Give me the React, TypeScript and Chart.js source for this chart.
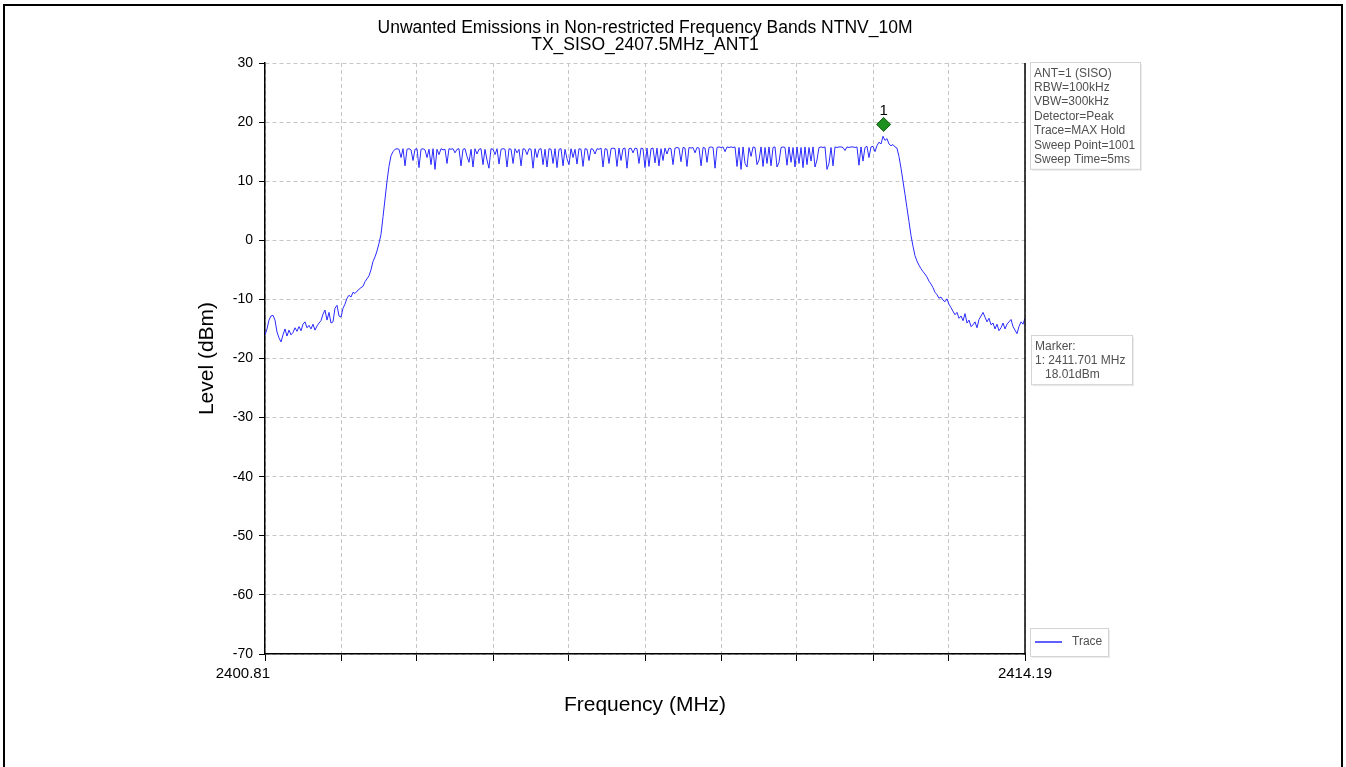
import React, { useEffect, useRef } from 'react';
import { Chart, registerables } from 'chart.js';

Chart.register(...registerables);

const TITLE_LINES = ['Unwanted Emissions in Non-restricted Frequency Bands NTNV_10M', 'TX_SISO_2407.5MHz_ANT1'];
const X_TITLE = 'Frequency (MHz)';
const Y_TITLE = 'Level (dBm)';
const X_MIN = 2400.81;
const X_MAX = 2414.19;
const X_DIVISIONS = 10;
const X_TICK_LABELS = ['2400.81', '2414.19'];
const Y_MIN = -70;
const Y_MAX = 30;
const Y_STEP = 10;

const SETTINGS_LINES = ['ANT=1 (SISO)', 'RBW=100kHz', 'VBW=300kHz', 'Detector=Peak', 'Trace=MAX Hold', 'Sweep Point=1001', 'Sweep Time=5ms'];
const MARKER_LINES = ['Marker:', '1: 2411.701 MHz', '   18.01dBm'];
const LEGEND_LABEL = 'Trace';

const MARKER_FREQ = 2411.701;
const MARKER_DRAWN_LEVEL = 19.6;
const MARKER_LABEL = '1';

// [frequency MHz, level dBm]
const LEFT_SKIRT: [number, number][] = [
  [2400.810,-16.0],[2400.845,-15.0],[2400.880,-13.5],[2400.916,-12.8],[2400.951,-12.7],[2400.986,-13.5],[2401.021,-15.5],[2401.056,-16.5],[2401.092,-17.2],[2401.127,-16.0],
  [2401.162,-15.0],[2401.197,-16.2],[2401.233,-15.2],[2401.268,-16.0],[2401.303,-15.6],[2401.338,-14.8],[2401.373,-15.4],[2401.409,-14.6],[2401.444,-15.3],[2401.479,-14.2],
  [2401.514,-13.8],[2401.550,-14.8],[2401.585,-14.4],[2401.620,-15.0],[2401.655,-14.2],[2401.690,-15.2],[2401.726,-14.5],[2401.761,-14.0],[2401.796,-13.6],[2401.831,-12.5],
  [2401.866,-11.8],[2401.902,-13.5],[2401.937,-12.2],[2401.972,-14.0],[2402.007,-13.8],[2402.042,-11.5],[2402.078,-11.0],[2402.113,-12.8],[2402.148,-13.0],[2402.183,-11.5],
  [2402.218,-10.8],[2402.254,-9.8],[2402.289,-9.3],[2402.324,-9.6],[2402.359,-8.8],[2402.394,-9.0],[2402.430,-8.6],[2402.465,-8.3],[2402.500,-8.0],[2402.535,-7.8],
  [2402.571,-7.0],[2402.606,-6.5],[2402.641,-6.0],[2402.676,-5.0],[2402.711,-3.6],[2402.747,-2.8],[2402.782,-1.8],[2402.817,-0.5],[2402.852,1.0],[2402.888,4.0],
  [2402.923,7.0],[2402.958,10.0],[2402.993,12.5],[2403.028,14.3],[2403.064,15.0],
];

const IN_BAND: [number, number][] = [
  [2403.099,15.4],[2403.134,15.5],[2403.169,15.4],[2403.205,14.0],[2403.240,15.5],[2403.275,12.6],[2403.310,15.4],[2403.345,15.5],[2403.381,15.3],[2403.416,13.5],
  [2403.451,15.4],[2403.486,15.5],[2403.521,12.3],[2403.557,15.4],[2403.592,15.5],[2403.627,15.3],[2403.662,14.0],[2403.697,15.4],[2403.733,12.8],[2403.768,15.5],
  [2403.803,12.0],[2403.838,15.4],[2403.873,14.5],[2403.909,15.5],[2403.944,15.3],[2403.979,15.4],[2404.014,13.0],[2404.049,15.5],[2404.085,15.4],[2404.120,15.5],
  [2404.155,14.8],[2404.190,15.4],[2404.225,15.5],[2404.261,12.6],[2404.296,15.4],[2404.331,15.5],[2404.366,14.2],[2404.401,13.2],[2404.437,15.4],[2404.472,12.4],
  [2404.507,15.5],[2404.542,14.6],[2404.577,15.4],[2404.613,15.5],[2404.648,12.8],[2404.683,15.4],[2404.718,13.6],[2404.753,12.2],[2404.789,15.5],[2404.824,15.4],
  [2404.860,14.5],[2404.895,15.5],[2404.930,12.9],[2404.966,15.4],[2405.001,15.5],[2405.036,15.4],[2405.071,12.4],[2405.106,15.5],[2405.142,15.4],[2405.177,13.0],
  [2405.212,15.5],[2405.247,14.8],[2405.282,15.4],[2405.318,12.6],[2405.353,15.5],[2405.388,15.4],[2405.423,14.5],[2405.458,15.5],[2405.494,15.4],[2405.529,12.2],
  [2405.564,15.5],[2405.599,14.0],[2405.634,15.4],[2405.670,15.5],[2405.705,12.8],[2405.740,15.4],[2405.775,12.4],[2405.810,15.5],[2405.846,15.4],[2405.881,13.0],
  [2405.916,15.5],[2405.951,12.3],[2405.986,15.4],[2406.022,15.5],[2406.057,12.6],[2406.092,15.4],[2406.127,13.8],[2406.162,12.8],[2406.198,15.5],[2406.233,14.0],
  [2406.268,15.4],[2406.303,12.9],[2406.338,15.5],[2406.374,15.4],[2406.409,12.5],[2406.444,15.5],[2406.479,15.4],[2406.514,13.5],[2406.550,15.5],[2406.585,15.4],
  [2406.620,14.6],[2406.655,15.5],[2406.690,15.4],[2406.726,15.6],[2406.761,12.4],[2406.796,15.5],[2406.831,15.4],[2406.866,13.0],[2406.902,15.5],[2406.937,15.6],
  [2406.972,15.5],[2407.007,12.5],[2407.042,15.6],[2407.078,13.5],[2407.113,15.5],[2407.148,15.6],[2407.183,12.2],[2407.218,15.5],[2407.254,15.6],[2407.289,14.8],
  [2407.324,15.6],[2407.359,15.5],[2407.394,13.0],[2407.430,15.6],[2407.465,15.5],[2407.500,12.3],[2407.535,15.6],[2407.570,12.5],[2407.606,15.5],[2407.641,15.6],
  [2407.676,13.1],[2407.711,15.6],[2407.746,12.6],[2407.782,15.5],[2407.817,13.5],[2407.852,15.6],[2407.887,14.6],[2407.922,15.6],[2407.958,15.5],[2407.993,12.8],
  [2408.028,15.6],[2408.063,15.7],[2408.098,15.6],[2408.134,13.3],[2408.169,15.7],[2408.204,15.6],[2408.239,12.5],[2408.274,15.7],[2408.310,15.6],[2408.345,15.7],
  [2408.381,14.8],[2408.416,15.7],[2408.451,15.6],[2408.487,12.6],[2408.522,15.7],[2408.557,15.6],[2408.592,13.2],[2408.627,15.7],[2408.663,15.8],[2408.698,15.7],
  [2408.733,12.2],[2408.768,15.7],[2408.803,15.8],[2408.839,15.7],[2408.874,15.8],[2408.909,15.0],[2408.944,15.8],[2408.979,15.7],[2409.015,15.8],[2409.050,15.7],
  [2409.085,15.8],[2409.120,12.5],[2409.155,15.7],[2409.191,12.0],[2409.226,15.8],[2409.261,13.0],[2409.296,12.4],[2409.331,15.7],[2409.367,14.2],[2409.402,15.8],
  [2409.437,15.7],[2409.472,12.8],[2409.507,13.6],[2409.543,15.8],[2409.578,12.5],[2409.613,15.7],[2409.648,13.0],[2409.683,15.8],[2409.719,12.6],[2409.754,15.7],
  [2409.789,15.8],[2409.824,12.4],[2409.859,13.2],[2409.895,15.7],[2409.930,15.8],[2409.965,15.7],[2410.000,12.7],[2410.035,15.8],[2410.071,13.2],[2410.106,15.7],
  [2410.141,12.4],[2410.176,15.8],[2410.211,13.0],[2410.247,15.7],[2410.282,12.3],[2410.317,15.8],[2410.352,12.8],[2410.387,15.7],[2410.423,13.4],[2410.458,15.8],
  [2410.493,12.4],[2410.528,13.6],[2410.563,15.7],[2410.599,15.8],[2410.634,15.7],[2410.669,15.8],[2410.704,12.0],[2410.739,13.0],[2410.775,15.7],[2410.810,12.6],
  [2410.845,15.8],[2410.880,15.7],[2410.915,15.8],[2410.951,15.8],[2410.986,15.7],[2411.021,15.2],[2411.056,15.8],[2411.091,15.7],[2411.127,15.8],[2411.162,15.8],
  [2411.197,15.7],[2411.232,15.8],[2411.267,12.7],[2411.303,15.8],[2411.338,13.4],[2411.373,15.7],[2411.408,15.9],[2411.443,14.0],[2411.479,15.8],[2411.514,15.9],
  [2411.549,15.0],[2411.584,16.0],[2411.619,16.6],[2411.655,16.3],[2411.690,17.6],[2411.725,16.9],[2411.760,17.2],[2411.795,16.3],[2411.831,16.0],[2411.866,16.2],
];

const RIGHT_SKIRT: [number, number][] = [
  [2411.901,15.8],[2411.936,15.6],[2411.971,14.2],[2412.007,12.2],[2412.042,10.0],[2412.077,7.8],[2412.112,5.5],[2412.147,3.2],[2412.183,0.8],[2412.218,-1.0],
  [2412.253,-2.6],[2412.288,-3.5],[2412.323,-4.2],[2412.359,-4.8],[2412.394,-5.3],[2412.429,-5.7],[2412.464,-6.2],[2412.499,-6.9],[2412.535,-7.4],[2412.570,-8.0],
  [2412.605,-8.8],[2412.640,-9.2],[2412.675,-9.8],[2412.711,-9.6],[2412.746,-10.1],[2412.781,-10.4],[2412.816,-9.9],[2412.851,-10.8],[2412.887,-11.4],[2412.922,-12.0],
  [2412.958,-12.6],[2412.993,-12.2],[2413.028,-13.2],[2413.064,-12.8],[2413.099,-13.6],[2413.134,-12.4],[2413.169,-14.0],[2413.204,-13.5],[2413.240,-14.6],[2413.275,-14.3],
  [2413.310,-13.8],[2413.345,-14.8],[2413.380,-13.4],[2413.416,-12.8],[2413.451,-12.2],[2413.486,-13.0],[2413.521,-13.8],[2413.556,-13.2],[2413.592,-14.3],[2413.627,-14.0],
  [2413.662,-15.0],[2413.697,-14.2],[2413.732,-15.3],[2413.768,-14.8],[2413.803,-14.0],[2413.838,-15.0],[2413.873,-14.2],[2413.908,-13.8],[2413.944,-13.4],[2413.979,-14.6],
  [2414.014,-15.2],[2414.049,-15.8],[2414.084,-14.6],[2414.120,-13.8],[2414.155,-14.2],[2414.190,-13.2],
];

const FONT = 'Arial, "Liberation Sans", sans-serif';
const TRACE_COLOR = '#2a2aff';

function drawInfoBox(ctx: CanvasRenderingContext2D, x: number, y: number, w: number, lines: string[], lineH: number) {
  const h = lines.length * lineH + 6;
  ctx.save();
  ctx.fillStyle = 'rgba(0,0,0,0.08)';
  ctx.fillRect(x + 2, y + 2, w, h);
  ctx.fillStyle = '#ffffff';
  ctx.fillRect(x, y, w, h);
  ctx.strokeStyle = '#d4d4d4';
  ctx.lineWidth = 1;
  ctx.strokeRect(x + 0.5, y + 0.5, w, h);
  ctx.fillStyle = '#505050';
  ctx.font = `12px ${FONT}`;
  ctx.textAlign = 'left';
  ctx.textBaseline = 'middle';
  lines.forEach((t, i) => ctx.fillText(t, x + 4, y + 4 + lineH * (i + 0.5)));
  ctx.restore();
}

const overlayPlugin = {
  id: 'overlay',
  afterDraw(chart: any) {
    const ctx: CanvasRenderingContext2D = chart.ctx;
    const { right, top, bottom } = chart.chartArea;
    const xs = chart.scales.x;
    const ys = chart.scales.y;
    ctx.save();
    // right frame line
    ctx.strokeStyle = '#000';
    ctx.lineWidth = 1.5;
    ctx.beginPath();
    ctx.moveTo(right, top);
    ctx.lineTo(right, bottom + 0.75);
    ctx.stroke();

    // x tick labels at the two ends of the axis
    ctx.fillStyle = '#000';
    ctx.font = `15px ${FONT}`;
    ctx.textBaseline = 'middle';
    ctx.textAlign = 'right';
    ctx.fillText(X_TICK_LABELS[0], xs.getPixelForValue(X_MIN) + 5, bottom + 20);
    ctx.textAlign = 'center';
    ctx.fillText(X_TICK_LABELS[1], xs.getPixelForValue(X_MAX), bottom + 20);

    // marker label
    const mx = xs.getPixelForValue(MARKER_FREQ);
    const my = ys.getPixelForValue(MARKER_DRAWN_LEVEL);
    ctx.fillStyle = '#000';
    ctx.font = `15px ${FONT}`;
    ctx.textAlign = 'center';
    ctx.textBaseline = 'alphabetic';
    ctx.fillText(MARKER_LABEL, mx, my - 9);
    ctx.restore();

    drawInfoBox(ctx, right + 5, top - 1, 110, SETTINGS_LINES, 14.4);
    drawInfoBox(ctx, right + 6, top + 272, 101, MARKER_LINES, 14.4);

    // legend box
    ctx.save();
    const lx = right + 5, ly = bottom - 26, lw = 78, lh = 28;
    ctx.fillStyle = 'rgba(0,0,0,0.08)';
    ctx.fillRect(lx + 2, ly + 2, lw, lh);
    ctx.fillStyle = '#fff';
    ctx.fillRect(lx, ly, lw, lh);
    ctx.strokeStyle = '#d4d4d4';
    ctx.lineWidth = 1;
    ctx.strokeRect(lx + 0.5, ly + 0.5, lw, lh);
    ctx.strokeStyle = TRACE_COLOR;
    ctx.lineWidth = 1.5;
    ctx.beginPath();
    ctx.moveTo(lx + 5, ly + lh / 2);
    ctx.lineTo(lx + 32, ly + lh / 2);
    ctx.stroke();
    ctx.fillStyle = '#505050';
    ctx.font = `12px ${FONT}`;
    ctx.textAlign = 'left';
    ctx.textBaseline = 'middle';
    ctx.fillText(LEGEND_LABEL, lx + 42, ly + lh / 2);
    ctx.restore();
  },
};

export default function App() {
  const canvasRef = useRef<HTMLCanvasElement | null>(null);

  useEffect(() => {
    const canvas = canvasRef.current;
    if (!canvas) return;
    const trace = [...LEFT_SKIRT, ...IN_BAND, ...RIGHT_SKIRT].map(([x, y]) => ({ x, y }));
    const gridColor = '#c6c6c6';
    const chart = new Chart(canvas, {
      type: 'line',
      data: {
        datasets: [
          {
            label: LEGEND_LABEL,
            data: trace,
            borderColor: TRACE_COLOR,
            borderWidth: 1,
            pointRadius: 0,
            tension: 0,
            order: 2,
          },
          {
            label: 'Marker',
            data: [{ x: MARKER_FREQ, y: MARKER_DRAWN_LEVEL }],
            showLine: false,
            pointStyle: 'rectRot',
            pointRadius: 7,
            backgroundColor: '#1f8f1f',
            borderColor: '#0f5f0f',
            borderWidth: 1,
            order: 1,
          },
        ],
      },
      options: {
        animation: false,
        responsive: false,
        devicePixelRatio: 1,
        parsing: false,
        layout: { padding: { left: 190, right: 321, top: 0, bottom: 0 } },
        plugins: {
          legend: { display: false },
          tooltip: { enabled: false },
          title: {
            display: true,
            text: TITLE_LINES,
            fullSize: false,
            color: '#000',
            font: { family: FONT, size: 17.5, weight: 'normal', lineHeight: 1.0 },
            padding: { top: 19, bottom: 9 },
          },
        },
        scales: {
          x: {
            type: 'linear',
            min: X_MIN,
            max: X_MAX,
            afterBuildTicks: (s: any) => {
              const step = (X_MAX - X_MIN) / X_DIVISIONS;
              s.ticks = Array.from({ length: X_DIVISIONS + 1 }, (_, i) => ({ value: X_MIN + i * step }));
            },
            afterFit: (s: any) => {
              s.height = 113;
            },
            ticks: {
              autoSkip: false,
              maxRotation: 0,
              color: '#000',
              font: { family: FONT, size: 15 },
              padding: 4,
              callback: () => '',
            },
            grid: { color: gridColor, lineWidth: 1, tickLength: 7, tickColor: '#000', tickWidth: 1 },
            border: { display: true, color: '#000', width: 1.5, dash: [4, 3] },
            title: {
              display: true,
              text: X_TITLE,
              color: '#000',
              font: { family: FONT, size: 21 },
              padding: { top: 0, bottom: 49 },
            },
          },
          y: {
            type: 'linear',
            min: Y_MIN,
            max: Y_MAX,
            afterFit: (s: any) => {
              s.width = 75;
            },
            ticks: {
              stepSize: Y_STEP,
              color: '#000',
              font: { family: FONT, size: 14 },
              padding: 6,
            },
            grid: { color: gridColor, lineWidth: 1, tickLength: 6, tickColor: '#000', tickWidth: 1 },
            border: { display: true, color: '#000', width: 1.5, dash: [4, 3] },
            title: {
              display: true,
              text: Y_TITLE,
              color: '#000',
              font: { family: FONT, size: 21 },
              padding: { top: 5, bottom: 0 },
            },
          },
        },
      },
      plugins: [overlayPlugin],
    } as any);
    return () => chart.destroy();
  }, []);

  return (
    <div style={{ position: 'fixed', left: 0, top: 0, width: 1346, height: 767, background: '#fff', overflow: 'hidden' }}>
      <canvas ref={canvasRef} width={1346} height={767} style={{ position: 'absolute', left: 0, top: 0 }} />
      <div
        style={{
          position: 'absolute',
          left: 3,
          top: 4,
          width: 1340,
          height: 900,
          border: '2px solid #000',
          boxSizing: 'border-box',
          pointerEvents: 'none',
        }}
      />
    </div>
  );
}
